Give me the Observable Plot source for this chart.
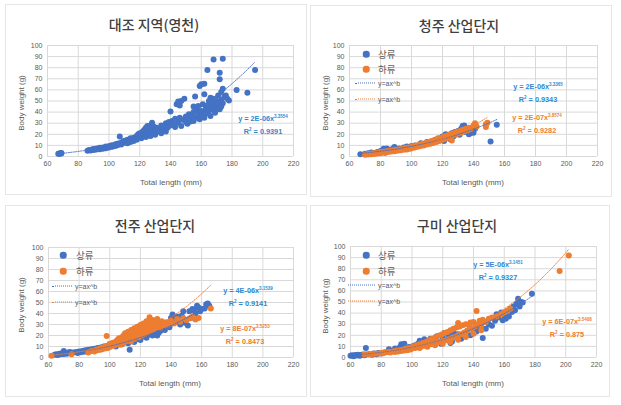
<!DOCTYPE html>
<html><head><meta charset="utf-8">
<script src="https://cdn.jsdelivr.net/npm/d3@7"></script>
<script src="https://cdn.jsdelivr.net/npm/@observablehq/plot@0.6"></script>
<style>
body{margin:0;background:#fff;width:621px;height:405px;position:relative;overflow:hidden;font-family:"Liberation Sans",Arial,sans-serif;}
.panel{position:absolute;border:1px solid #e6e6e6;box-sizing:border-box;}
.c{position:absolute;transform:translate(-50%,-50%);white-space:nowrap;}
.l{position:absolute;transform:translate(0,-50%);white-space:nowrap;}
.title{font-family:"Noto Sans CJK KR",sans-serif;font-size:14px;color:#404040;font-weight:500;}
.xt{font-size:8px;color:#595959;}
.yt{font-size:8px;color:#595959;transform:translate(-50%,-50%) rotate(-90deg);}
.eq{font-size:7.3px;font-weight:bold;text-align:center;line-height:10.5px;}
.eq sup{font-size:4.5px;vertical-align:3px;}
.lg{font-family:"Noto Sans CJK KR",sans-serif;font-size:9.5px;color:#595959;}
.lt{font-size:7px;color:#595959;}
.plotbox{position:absolute;}
</style></head><body>
<script>
// ---------- data ----------
const xTicks = [60, 80, 100, 120, 140, 160, 180, 200, 220];
const yTicks = [0, 10, 20, 30, 40, 50, 60, 70, 80, 90, 100];
const titles = ["대조 지역(영천)", "청주 산업단지", "전주 산업단지", "구미 산업단지"];
const seriesNames = ["상류", "하류"];
const trendName = "y=ax^b";
const xTitle = "Total length (mm)";
const yTitle = "Body weight (g)";
const eqCoefA = [["2E-06"], ["2E-06", "2E-07"], ["4E-06", "8E-07"], ["5E-06", "6E-07"]];
const eqCoefB = [["3.3554"], ["3.3365", "3.8574"], ["3.1539", "3.5253"], ["3.1451", "3.5408"]];
const eqR2 = [["0.9391"], ["0.9343", "0.9282"], ["0.9141", "0.8473"], ["0.9327", "0.875"]];

// 대조 지역(영천) – single series
const ycFish = [[67,2.4],[68,2.8],[69,3.2],[68.5,2.9],[67.5,2.5],[69,2.6],
[86,5.2],[87,5.8],[88,5.5],[89,6.2],[90,6.8],[90,5.8],[91,6.5],[92,7.2],[92,6.2],[93,7.0],[94,7.8],[94,6.6],[95,7.6],[96,8.2],[96,6.9],[97,7.8],[98,9.0],[98,7.5],[99,8.4],[100,9.2],[100,8.0],[101,9.6],[102,8.8],[102,10.2],[103,9.3],[104,10.8],[104,9.6],[105,11.3],[105,10.0],[106,11.7],[106,10.5],[107,18.0],[107,11.8],[108,12.4],[108,10.8],[109,13.2],[110,12.5],[110,14.2],[111,13.6],[112,12.0],[112,15.0],[113,14.2],[114,16.5],[114,13.0],[115,15.5],[116,17.0],[116,14.0],[117,16.0],[118,18.5],[118,15.0],[119,20.0],[119,17.0],[120,18.0],[120,21.0],[121,16.5],[121,19.5],[122,22.5],[122,18.0],[123,24.0],[123,20.0],[124,26.0],[124,17.5],[124,22.0],[125,27.5],[125,19.0],[125,23.5],[126,25.0],[126,21.0],[127,28.0],[127,18.5],[127,23.0],[128,30.5],[128,20.5],[128,25.5],[129,22.0],[129,27.0],[130,24.0],[130,19.5],[131,26.0],[132,22.5],[133,25.0],[134,28.0],[134,21.0],[135,24.0],[136,27.0],[137,22.5],[137,30.0],[138,26.0],[139,31.0],[140,28.0],[140,40.5],[141,32.0],[142,29.0],[143,34.0],[143,26.5],[144,47.0],[145,49.5],[145,30.5],[146,46.0],[146,35.0],[147,50.0],[147,27.5],[148,33.0],[149,52.0],[150,31.0],[150,36.0],[151,29.5],[152,38.0],[152,33.5],[153,31.5],[154,36.5],[155,40.0],[155,45.0],[155,32.0],[156,54.0],[157,35.0],[157,42.0],[158,38.0],[158,45.5],[159,33.5],[159,63.5],[160,65.0],[160,36.0],[160,41.0],[161,39.0],[161,47.0],[162,56.0],[162,35.0],[162,65.5],[163,43.0],[163,38.5],[164,78.0],[164,46.0],[165,50.0],[165,41.0],[166,36.5],[166,53.0],[167,44.0],[167,48.0],[168,87.5],[168,42.0],[168,52.0],[169,45.5],[169,39.5],[170,50.0],[170,43.0],[171,47.0],[171,55.0],[172,42.5],[172,69.5],[172,75.5],[173,51.0],[173,58.0],[173,45.0],[174,88.0],[174,61.0],[174,48.0],[175,53.5],[176,55.0],[177,52.0],[178,50.5],[183,60.0],[190,57.5],[195,78.0]];

// 청주 산업단지
const cjUp = [[67,2],[70,2.5],[72,3],[74,3.5],[76,3.2],[78,4],[80,5],[82,7],[83,6.5],[84,7.2],[85,5.5],[86,6],[88,7],[89,8.5],[90,6.5],[92,7.2],[94,6.8],[95,8],[97,9],[98,7.5],[100,9.5],[102,10],[104,9.5],[106,12],[108,11],[110,13],[112,12],[114,14],[116,13.5],[118,16],[119,15],[120,18],[121,14],[122,20],[123,17],[124,19],[125,15.5],[126,21],[127,18],[128,22],[129,20],[130,23],[131,19.5],[132,25],[133,27.5],[134,28],[135,22],[136,24],[137,20],[138,21],[140,21.5],[141,25],[151,13.5],[155,28.5]];
const cjDown = [[70,1.5],[71,2],[72,1.8],[73,2.5],[74,2],[75,3],[76,2.2],[77,3.2],[78,2.8],[79,3.5],[80,3],[80,4],[81,3.6],[82,4.2],[83,3.2],[84,4.8],[85,4],[86,5.2],[87,4.4],[88,5.6],[89,4.8],[90,6],[91,5.2],[92,6.6],[93,5.6],[94,7],[95,6],[96,7.6],[97,6.4],[98,8.2],[99,7],[100,8.8],[100,7.5],[101,9.4],[102,8.2],[103,10],[104,8.8],[105,10.8],[106,9.4],[107,11.5],[108,10],[109,12.2],[110,10.8],[111,13],[112,11.5],[113,14],[114,12.2],[115,15],[116,13],[117,16.5],[118,14],[119,17],[120,15],[121,18],[122,16],[123,19],[124,17],[125,20],[126,14.5],[126,18.5],[127,21],[128,19.5],[129,22],[130,20.5],[131,23],[132,21.5],[133,24],[134,22.5],[135,25],[136,23.5],[137,26],[138,24.5],[140,28],[141,30],[142,27],[148,26.5],[148,29],[149,30.5]];

// 전주 산업단지
const jjUp = [[64,2.5],[65,3],[66,2.2],[67,3.5],[68,3],[69,4],[70,3.2],[70,6],[71,4.2],[72,3.5],[73,4.5],[74,5],[75,3.8],[76,4.6],[78,5],[79,4.2],[80,5.5],[81,4.8],[82,6],[83,5.2],[84,6.6],[85,5.5],[86,7],[87,6],[88,7.5],[90,8],[91,6.8],[92,8.6],[94,9],[95,8],[96,10],[98,10.5],[99,9],[100,11],[102,11.5],[104,10],[105,12.5],[106,13],[108,12],[110,14],[112,13],[113,7],[114,15],[116,14],[118,17],[120,16],[122,19],[124,18],[126,21],[128,20],[130,23],[131,20],[132,22.5],[133,24],[135,27],[136,25],[138,30],[139,27.5],[140,36],[141,39],[142,32],[143,35],[144,37],[145,33],[146,30],[147,38],[148,42],[149,31.5],[150,34],[151,29],[152,42],[153,36],[154,44],[155,43],[156,40],[157,47],[158,45.5],[159,42],[160,44],[162,44.5],[163,48.5],[164,49],[165,47]];
const jjDown = [[62,1.5],[75,3],[86,4.5],[88,6],[90,5.5],[91,7],[92,6.5],[93,8],[94,7],[95,9],[96,8],[97,10],[98,8.5],[98,19.5],[99,11],[100,9.5],[100,12.5],[101,10.5],[102,13.5],[103,11],[104,14.5],[104,12],[105,16],[106,13],[106,17.5],[107,14],[107,11.5],[108,18.5],[108,15.5],[109,20],[109,13],[110,17],[110,22],[111,15],[111,19],[112,23.5],[112,16.5],[113,21],[113,18],[114,25],[114,14.5],[115,22.5],[115,19.5],[116,26.5],[116,17],[117,24],[117,20.5],[118,28],[118,22],[119,25.5],[119,18.5],[120,29.5],[120,23.5],[121,27],[121,20],[122,31],[122,25],[123,28.5],[123,21.5],[124,33],[124,26],[125,30],[125,23],[126,36.5],[126,27.5],[127,31.5],[127,24.5],[128,34],[128,29],[129,26],[130,32],[130,28],[131,35],[132,30.5],[133,27],[134,33],[135,31],[136,29],[137,32],[138,30],[140,33.5],[142,31],[144,35],[146,32.5],[148,36],[150,34],[152,35.5],[154,37],[156,34.5],[158,36],[166,44.5]];

// 구미 산업단지
const gmUp = [[60,1.5],[61,2],[62,1.2],[63,2.2],[64,1.8],[65,2.5],[66,1.6],[67,2.2],[68,2.8],[69,2],[70,8.5],[70,2.6],[72,3],[74,2.5],[75,3.5],[77,3],[78,4],[80,3.5],[82,4.5],[84,5],[85,7.5],[86,5.5],[88,6.5],[89,8],[90,7],[92,9],[93,12],[94,11],[95,12.5],[96,8],[98,9.5],[100,10],[102,11],[104,12.5],[105,15],[106,11.5],[108,16.5],[110,13.5],[112,17],[114,15],[116,19],[118,14],[119,12.5],[120,18],[121,22],[122,16],[124,20],[125,13],[126,14.5],[127,23],[128,19.5],[130,21],[132,17],[134,22],[136,24],[138,20],[140,25],[142,23.5],[144,27],[146,17.5],[148,26],[150,30],[152,28.5],[154,33],[155,39],[156,36],[158,40.5],[159,33.5],[160,38],[161,35],[162,42],[163,37],[164,44],[165,41],[166,46],[167,42.5],[168,48.5],[169,53],[170,46],[171,50],[172,49.5],[178,57.5]];
const gmDown = [[69,2.6],[72,3.0],[74,3.2],[76,3.6],[78,3.4],[80,4.2],[81,3.8],[82,4.6],[84,4.8],[85,5.2],[86,4.6],[88,5.7],[89,5.0],[90,6.2],[91,5.4],[92,6.6],[93,5.8],[94,7],[95,6.2],[96,8],[97,6.6],[98,8.6],[99,7.2],[100,9.5],[100,8],[101,10],[102,8.6],[103,11],[104,9.2],[105,12],[105,8.6],[106,9.8],[107,13],[108,10.5],[109,14],[110,11],[110,9.6],[111,15.5],[112,12],[113,17],[114,12.5],[115,18],[115,11],[116,13],[117,19.5],[118,14],[119,20.5],[120,15],[120,12.5],[121,22],[122,15.5],[123,23],[124,16.5],[125,24.5],[125,14],[126,17.5],[127,26],[128,18.5],[129,27],[130,31],[130,20],[130,16],[131,28],[132,21],[133,29],[134,22.5],[135,30],[135,18.5],[136,24],[137,29],[138,31.5],[139,26],[140,32],[140,21.5],[141,28],[142,42],[143,30],[144,33],[145,29],[145,24.5],[146,34],[148,32],[150,35],[152,36],[155,37],[158,39],[160,40.5],[162,42],[164,44],[196,78],[202,92]];

const colors = ["#4472c4", "#ed7d31"];
const eqColors = ["#2e88d4", "#ed7d31"];

// ---------- layout ----------
const panels = [
  {box:[5,4,302,191], svg:[5,38,300,140], m:[7,12,22,42], series:[ycFish], title:[154,24], xt:[171,182], yt:[21,103], legend:null, eq:[[263,119]]},
  {box:[310,5,302,192], svg:[312,38,295,140], m:[7,10,22,37], series:[cjUp,cjDown], title:[459,25], xt:[473,182], yt:[325,103], legend:{dot:366,txt:378,line:[355,375],lt:378,y:[54,69,83,99]}, eq:[[538,87],[537,118]]},
  {box:[5,205,302,192], svg:[5,240,300,140], m:[7,12,23,43], series:[jjUp,jjDown], title:[155,225], xt:[170,383], yt:[21,305], legend:{dot:63,txt:76,line:[52,72],lt:75,y:[255,271,286,302]}, eq:[[248,291],[245,329]]},
  {box:[310,205,300,192], svg:[312,239,295,140], m:[7,11,22,38], series:[gmUp,gmDown], title:[457,225], xt:[473,383], yt:[325,306], legend:{dot:366,txt:378,line:[348,375],lt:378,y:[255,271,285,301]}, eq:[[498,265],[567,322]]}
];

function powerFit(data) {
  const lx = data.map(d => Math.log(d[0])), ly = data.map(d => Math.log(d[1]));
  const mx = d3.mean(lx), my = d3.mean(ly);
  let sxy = 0, sxx = 0;
  for (let i = 0; i < lx.length; i++) { sxy += (lx[i]-mx)*(ly[i]-my); sxx += (lx[i]-mx)**2; }
  const b = sxy / sxx, a = Math.exp(my - b*mx);
  const [x0, x1] = d3.extent(data, d => d[0]);
  return d3.range(x0, x1 + 0.001, 0.5).concat([x1]).map(x => [x, a * Math.pow(x, b)]);
}

function el(cls, html, x, y) {
  const d = document.createElement("div");
  d.className = cls; d.innerHTML = html;
  d.style.left = x + "px"; d.style.top = y + "px";
  document.body.appendChild(d); return d;
}

panels.forEach((p, i) => {
  const b = document.createElement("div");
  b.className = "panel";
  Object.assign(b.style, {left:p.box[0]+"px", top:p.box[1]+"px", width:p.box[2]+"px", height:p.box[3]+"px"});
  document.body.appendChild(b);

  const marks = [
    Plot.gridX(xTicks, {stroke:"#d9d9d9", strokeOpacity:1}),
    Plot.gridY(yTicks, {stroke:"#d9d9d9", strokeOpacity:1}),
    Plot.axisX(xTicks, {tickSize:0, tickPadding:5, label:null, fontSize:7, color:"#595959"}),
    Plot.axisY(yTicks, {tickSize:0, tickPadding:5, label:null, fontSize:7, color:"#595959"})
  ];
  p.series.forEach((s, k) => marks.push(Plot.dot(s, {x:d=>d[0], y:d=>d[1], r:3, fill:colors[k], stroke:null})));
  p.series.forEach((s, k) => marks.push(Plot.line(powerFit(s), {x:d=>d[0], y:d=>d[1], stroke:colors[k], strokeWidth:1, strokeDasharray:"1.2,1.3", clip:true})));

  const chart = Plot.plot({
    width:p.svg[2], height:p.svg[3],
    marginTop:p.m[0], marginRight:p.m[1], marginBottom:p.m[2], marginLeft:p.m[3],
    x:{domain:[60,220]}, y:{domain:[0,100]},
    style:{background:"transparent", fontFamily:"'Liberation Sans', Arial, sans-serif", color:"#595959"},
    marks
  });
  const wrap = document.createElement("div");
  wrap.className = "plotbox";
  wrap.style.left = p.svg[0]+"px"; wrap.style.top = p.svg[1]+"px";
  wrap.appendChild(chart);
  document.body.appendChild(wrap);

  el("c title", titles[i], p.title[0], p.title[1]);
  el("c xt", xTitle, p.xt[0], p.xt[1]);
  el("c yt", yTitle, p.yt[0], p.yt[1]);

  p.eq.forEach((pos, k) => {
    const d = el("c eq", `y = ${eqCoefA[i][k]}x<sup>${eqCoefB[i][k]}</sup><br>R<sup>2</sup> = ${eqR2[i][k]}`, pos[0], pos[1] + 5);
    d.style.color = eqColors[k];
  });

  if (p.legend) {
    const L = p.legend;
    seriesNames.forEach((nm, k) => {
      const dot = el("c", "", L.dot, L.y[k]);
      Object.assign(dot.style, {width:"6.5px", height:"6.5px", borderRadius:"50%", background:colors[k]});
      el("l lg", nm, L.txt, L.y[k]);
      const ln = el("l", "", L.line[0], L.y[k+2]);
      Object.assign(ln.style, {width:(L.line[1]-L.line[0])+"px", height:"0", borderTop:"1px dotted "+colors[k]});
      el("l lt", trendName, L.lt, L.y[k+2]);
    });
  }
});
</script>
</body></html>
